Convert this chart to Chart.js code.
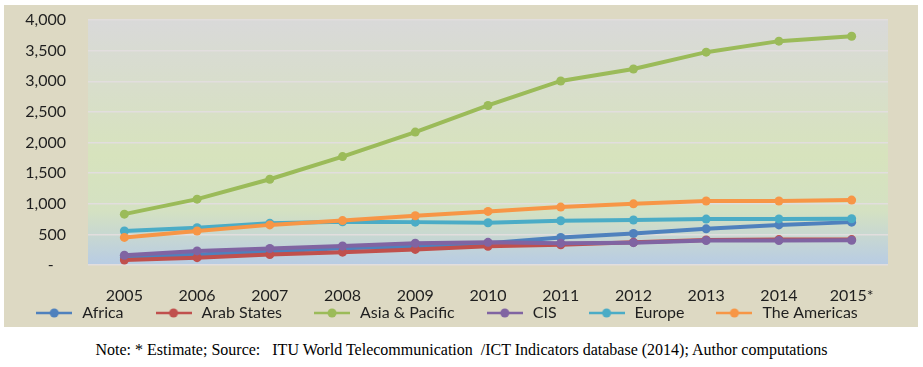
<html>
<head>
   <style>
   body{ margin: 0; background: #fff; }
   .chart-wrapper{
      position: absolute;
      left: 4px;
      top: 5px;
      width: 914px;
      height: 322px;
      background: #DDD9C3;
   }
   .note{
      position: absolute;
      left: 0;
      top: 341px;
      width: 923px;
      text-align: center;
      font-family: "Liberation Serif", serif;
      font-size: 16px;
      color: #000;
      white-space: pre;
   }
   </style>
</head>

<body>
   <div class="chart-wrapper">
      <canvas id="regions"></canvas>
   </div>
   <div class="note">Note: * Estimate; Source:   ITU World Telecommunication  /ICT Indicators database (2014); Author computations</div>
</body>

<script src="https://cdn.jsdelivr.net/npm/chart.js@4.4.0/dist/chart.umd.min.js"></script>

<script>
// Chart data
var years = ['2005', '2006', '2007', '2008', '2009', '2010', '2011', '2012', '2013', '2014', '2015*'];
var africa = [120, 170, 220, 275, 300, 355, 450, 515, 590, 655, 700];
var arabStates = [80, 120, 170, 210, 255, 305, 330, 370, 410, 415, 415];
var asiaPacific = [830, 1075, 1400, 1770, 2170, 2605, 3005, 3200, 3475, 3655, 3735];
var cis = [160, 230, 270, 310, 355, 370, 355, 365, 400, 400, 405];
var europe = [555, 610, 680, 705, 700, 690, 722, 735, 750, 752, 755];
var americas = [450, 555, 655, 725, 805, 875, 945, 998, 1045, 1045, 1060];
var yTicks = [0, 500, 1000, 1500, 2000, 2500, 3000, 3500, 4000];

var names = ['Africa', 'Arab States', 'Asia & Pacific', 'CIS', 'Europe', 'The Americas'];
var colors = ['#4F81BD', '#C0504D', '#9BBB59', '#8064A2', '#4BACC6', '#F79646'];
var series = [africa, arabStates, asiaPacific, cis, europe, americas];

// little line + dot for the legend
function legendMark(color){
   var c = document.createElement('canvas');
   c.width = 36; c.height = 10;
   var g = c.getContext('2d');
   g.strokeStyle = color;
   g.lineWidth = 2.5;
   g.beginPath(); g.moveTo(0, 5); g.lineTo(36, 5); g.stroke();
   g.fillStyle = color;
   g.beginPath(); g.arc(18, 5, 4.5, 0, Math.PI * 2); g.fill();
   return c;
}
var marks = colors.map(legendMark);

var datasets = series.map(function(vals, i){
   return {
      label: names[i],
      data: vals,
      borderColor: colors[i],
      backgroundColor: colors[i],
      borderWidth: 4,
      pointRadius: 4.5,
      pointBorderWidth: 0,
      order: series.length - i
   };
});

// plot area gradient
var plotBackground = {
   id: 'plotBackground',
   beforeDraw: function(chart){
      var a = chart.chartArea;
      var ctx = chart.ctx;
      var grad = ctx.createLinearGradient(0, a.top, 0, a.bottom);
      grad.addColorStop(0, '#D9D9D9');
      grad.addColorStop(0.55, '#D7E3BD');
      grad.addColorStop(0.78, '#D4E1C2');
      grad.addColorStop(1, '#B8CCE4');
      ctx.save();
      ctx.fillStyle = grad;
      ctx.fillRect(a.left, a.top, a.right - a.left, a.bottom - a.top);
      ctx.restore();
   }
};

Chart.defaults.font.family = 'Lato';
Chart.defaults.color = '#1F1F1F';

var context = document.getElementById('regions').getContext('2d');
var myChart = new Chart(context, {
   type: 'line',
   data: { labels: years, datasets: datasets },
   plugins: [plotBackground],
   options: {
      responsive: true,
      maintainAspectRatio: false,
      animation: false,
      layout: { padding: { top: 15, right: 30, left: 0, bottom: -4 } },
      plugins: {
         tooltip: { enabled: false },
         legend: {
            position: 'bottom',
            labels: {
               usePointStyle: true,
               pointStyleWidth: 40,
               font: { size: 16 },
               padding: 30,
               boxHeight: 10,
               generateLabels: function(chart){
                  return chart.data.datasets.map(function(ds, i){
                     return {
                        text: ds.label,
                        pointStyle: marks[i],
                        fillStyle: colors[i],
                        strokeStyle: colors[i],
                        lineWidth: 0,
                        fontColor: '#1F1F1F',
                        datasetIndex: i
                     };
                  });
               }
            }
         }
      },
      scales: {
         x: {
            offset: true,
            afterFit: function(scale){
               scale.height = 10;
               scale._computeLabelArea = function(){ return undefined; };
            },
            grid: { display: false },
            border: { display: false },
            ticks: { font: { size: 16 }, padding: 13, maxRotation: 0 }
         },
         y: {
            min: 0,
            max: 4000,
            afterFit: function(scale){
               scale.width = 84;
               scale.paddingTop = 10;
               scale.paddingBottom = 10;
            },
            afterBuildTicks: function(scale){
               scale.ticks = yTicks.map(function(v){ return { value: v }; });
            },
            grid: { color: '#E2DEDE', lineWidth: 1.5, drawTicks: false },
            border: { display: false },
            ticks: {
               font: { size: 16 },
               padding: 22,
               autoSkip: false,
               callback: function(v){ return v === 0 ? '-   ' : v.toLocaleString('en-US'); }
            }
         }
      }
   }
});
</script>
</html>
